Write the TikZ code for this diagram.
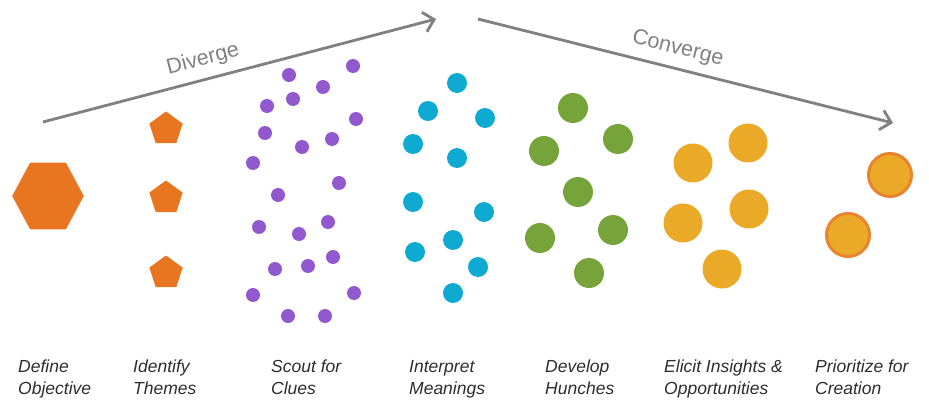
\documentclass[tikz,border=0pt]{standalone}
\usepackage{fontspec}
\setmainfont{Liberation Sans}
\usetikzlibrary{shapes.geometric,arrows.meta}
\definecolor{objorange}{RGB}{232,117,32}
\definecolor{cluepurple}{RGB}{146,88,206}
\definecolor{meaningcyan}{RGB}{14,170,210}
\definecolor{hunchgreen}{RGB}{118,163,58}
\definecolor{insightyellow}{RGB}{234,170,40}
\definecolor{priorityring}{RGB}{232,132,48}
\definecolor{arrowgray}{RGB}{128,128,128}
\definecolor{textgray}{RGB}{45,45,45}
\tikzset{
    % Shapes for each stage
    objectivebox/.style={
        regular polygon, regular polygon sides=6, fill=objorange,
        minimum size=77pt, inner sep=0pt, xscale=0.93
    },
    themebox/.style={
        regular polygon, regular polygon sides=5, fill=objorange,
        minimum size=35pt, inner sep=0pt
    },
    cluedot/.style={circle, fill=cluepurple, minimum size=14pt, inner sep=0pt},
    meaningdot/.style={circle, fill=meaningcyan, minimum size=20pt, inner sep=0pt},
    hunchdot/.style={circle, fill=hunchgreen, minimum size=30pt, inner sep=0pt},
    insightdot/.style={circle, fill=insightyellow, minimum size=39pt, inner sep=0pt},
    prioritydot/.style={
        circle, fill=insightyellow, draw=priorityring, line width=3pt,
        minimum size=43pt, inner sep=0pt
    },
    % Arrows and their captions
    flowarrow/.style={
        -{Straight Barb[length=10pt,width=20pt,line width=2.8pt]},
        line width=2.8pt, color=arrowgray
    },
    flowlabel/.style={
        sloped, above=5pt, text=arrowgray,
        font=\fontsize{21.5}{21.5}\selectfont
    },
    stagelabel/.style={
        anchor=north west, align=left, inner sep=0pt, text=textgray,
        font=\fontsize{17.5}{22}\selectfont\itshape
    }
}

\begin{document}
\begin{tikzpicture}[x=1pt, y=-1pt]
\useasboundingbox (0,0) rectangle (929,401);

% Diverge / converge arrows
\coordinate (div_start) at (43,122);
\coordinate (div_end) at (436,19);
\coordinate (con_start) at (478,19);
\coordinate (con_end) at (893,123);
\draw[flowarrow] (div_start) -- node[flowlabel, pos=0.42] {Diverge} (div_end);
\draw[flowarrow] (con_start) -- node[flowlabel, pos=0.47] {Converge} (con_end);

% Define objective
\node[objectivebox] (objective) at (48,196) {};

% Identify themes
\node[themebox] (theme_a) at (166,129) {};
\node[themebox] (theme_b) at (166,198) {};
\node[themebox] (theme_c) at (166,273) {};

% Scout for clues
\node[cluedot] (clue_a) at (289,75) {};
\node[cluedot] (clue_b) at (353,66) {};
\node[cluedot] (clue_c) at (323,87) {};
\node[cluedot] (clue_d) at (293,99) {};
\node[cluedot] (clue_e) at (267,106) {};
\node[cluedot] (clue_f) at (356,119) {};
\node[cluedot] (clue_g) at (265,133) {};
\node[cluedot] (clue_h) at (332,139) {};
\node[cluedot] (clue_i) at (302,147) {};
\node[cluedot] (clue_j) at (253,163) {};
\node[cluedot] (clue_k) at (339,183) {};
\node[cluedot] (clue_l) at (278,195) {};
\node[cluedot] (clue_m) at (259,227) {};
\node[cluedot] (clue_n) at (299,234) {};
\node[cluedot] (clue_o) at (328,222) {};
\node[cluedot] (clue_p) at (333,257) {};
\node[cluedot] (clue_q) at (308,266) {};
\node[cluedot] (clue_r) at (275,269) {};
\node[cluedot] (clue_s) at (253,295) {};
\node[cluedot] (clue_t) at (354,293) {};
\node[cluedot] (clue_u) at (288,316) {};
\node[cluedot] (clue_v) at (325,316) {};

% Interpret meanings
\node[meaningdot] (meaning_a) at (457,83) {};
\node[meaningdot] (meaning_b) at (428,111) {};
\node[meaningdot] (meaning_c) at (485,118) {};
\node[meaningdot] (meaning_d) at (413,144) {};
\node[meaningdot] (meaning_e) at (457,158) {};
\node[meaningdot] (meaning_f) at (413,202) {};
\node[meaningdot] (meaning_g) at (484,212) {};
\node[meaningdot] (meaning_h) at (453,240) {};
\node[meaningdot] (meaning_i) at (415,252) {};
\node[meaningdot] (meaning_j) at (478,267) {};
\node[meaningdot] (meaning_k) at (453,293) {};

% Develop hunches
\node[hunchdot] (hunch_a) at (573,108) {};
\node[hunchdot] (hunch_b) at (618,139) {};
\node[hunchdot] (hunch_c) at (544,151) {};
\node[hunchdot] (hunch_d) at (578,192) {};
\node[hunchdot] (hunch_e) at (613,230) {};
\node[hunchdot] (hunch_f) at (540,238) {};
\node[hunchdot] (hunch_g) at (589,273) {};

% Elicit insights & opportunities
\node[insightdot] (insight_a) at (748,143) {};
\node[insightdot] (insight_b) at (693,163) {};
\node[insightdot] (insight_c) at (749,209) {};
\node[insightdot] (insight_d) at (683,223) {};
\node[insightdot] (insight_e) at (722,269) {};

% Prioritize for creation
\node[prioritydot] (priority_a) at (890,175) {};
\node[prioritydot] (priority_b) at (848,235) {};

% Stage captions
\node[stagelabel] (lbl_define) at (18,360) {Define\\Objective};
\node[stagelabel] (lbl_identify) at (133,360) {Identify\\Themes};
\node[stagelabel] (lbl_scout) at (271,360) {Scout for\\Clues};
\node[stagelabel] (lbl_interpret) at (409,360) {Interpret\\Meanings};
\node[stagelabel] (lbl_develop) at (545,360) {Develop\\Hunches};
\node[stagelabel] (lbl_elicit) at (664,360) {Elicit Insights \&\\Opportunities};
\node[stagelabel] (lbl_prioritize) at (815,360) {Prioritize for\\Creation};

\end{tikzpicture}
\end{document}
